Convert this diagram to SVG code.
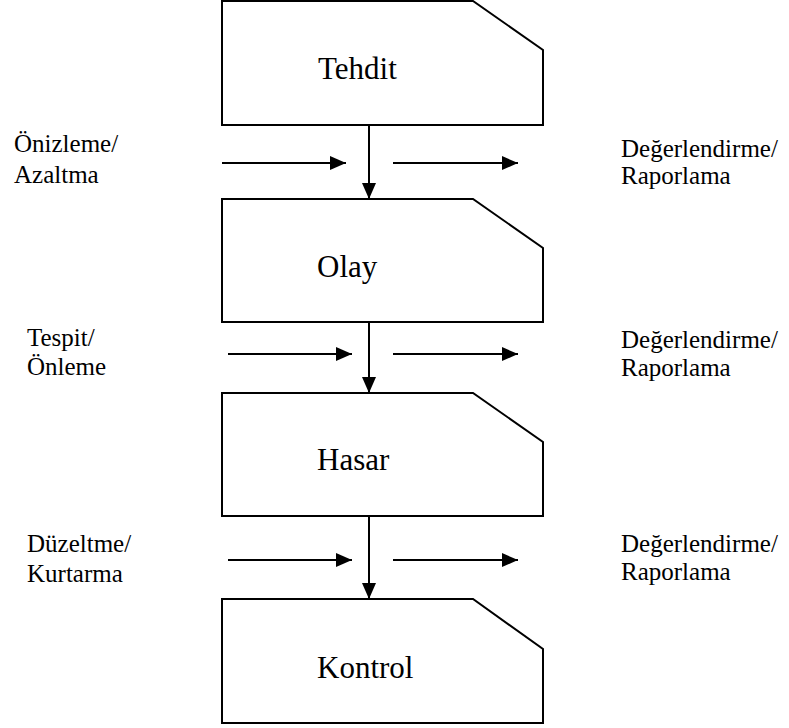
<svg xmlns="http://www.w3.org/2000/svg" width="789" height="728" viewBox="0 0 789 728">
  <style>
    .box { fill: #fff; stroke: #000; stroke-width: 2; }
    text { font-family: 'Liberation Serif', 'DejaVu Serif', serif; fill: #000; }
    .title { font-size: 31px; }
    .lbl { font-size: 25px; }
    .arr { stroke: #000; stroke-width: 2; fill: none; marker-end: url(#head); }
  </style>
  <defs>
    <marker id="head" viewBox="0 0 16 14" refX="16" refY="7" markerWidth="16" markerHeight="14" markerUnits="userSpaceOnUse" orient="auto">
      <path d="M0,0 L16,7 L0,14 Z" fill="#000"/>
    </marker>
  </defs>
  <rect width="789" height="728" fill="#fff"/>

  <g id="tehdit">
    <path class="box" d="M222,1 H473 L543,50 V125 H222 Z"/>
    <text class="title" x="318" y="79">Tehdit</text>
  </g>
  <g id="olay">
    <path class="box" d="M222,199 H473 L543,248 V322 H222 Z"/>
    <text class="title" x="317" y="277">Olay</text>
  </g>
  <g id="hasar">
    <path class="box" d="M222,393 H473 L543,442 V516 H222 Z"/>
    <text class="title" x="317" y="470">Hasar</text>
  </g>
  <g id="kontrol">
    <path class="box" d="M222,599 H473 L543,649 V723 H222 Z"/>
    <text class="title" x="317" y="678">Kontrol</text>
  </g>

  <g id="connectors">
    <line class="arr" x1="369" y1="125" x2="369" y2="199"/>
    <line class="arr" x1="369" y1="322" x2="369" y2="393"/>
    <line class="arr" x1="369" y1="516" x2="369" y2="599"/>

    <line class="arr" x1="222" y1="163" x2="346" y2="163"/>
    <line class="arr" x1="393" y1="163" x2="518" y2="163"/>
    <line class="arr" x1="228" y1="354" x2="352" y2="354"/>
    <line class="arr" x1="393" y1="354" x2="518" y2="354"/>
    <line class="arr" x1="228" y1="560" x2="352" y2="560"/>
    <line class="arr" x1="393" y1="560" x2="518" y2="560"/>
  </g>

  <g id="labels">
    <text class="lbl" x="14" y="152">Önizleme/</text>
    <text class="lbl" x="14" y="183">Azaltma</text>
    <text class="lbl" x="621" y="157">Değerlendirme/</text>
    <text class="lbl" x="621" y="184">Raporlama</text>

    <text class="lbl" x="27" y="346">Tespit/</text>
    <text class="lbl" x="27" y="375">Önleme</text>
    <text class="lbl" x="621" y="348">Değerlendirme/</text>
    <text class="lbl" x="621" y="376">Raporlama</text>

    <text class="lbl" x="27" y="552">Düzeltme/</text>
    <text class="lbl" x="27" y="582">Kurtarma</text>
    <text class="lbl" x="621" y="552">Değerlendirme/</text>
    <text class="lbl" x="621" y="580">Raporlama</text>
  </g>
</svg>
